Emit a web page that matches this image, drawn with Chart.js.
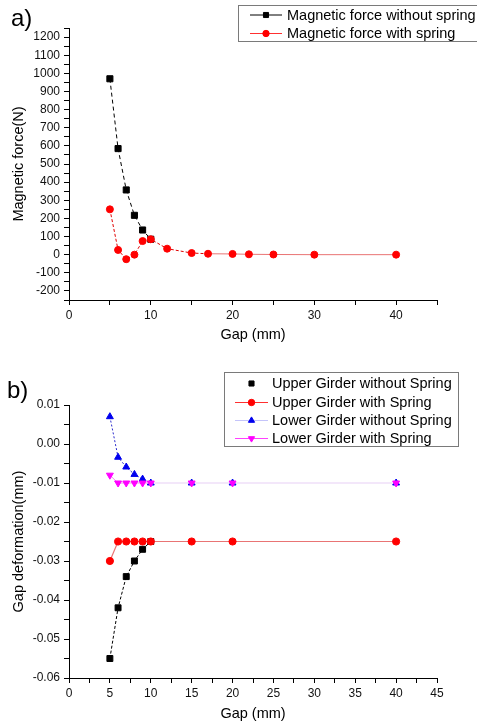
<!DOCTYPE html>
<html><head><meta charset="utf-8">
<script src="https://cdn.jsdelivr.net/npm/chart.js@4/dist/chart.umd.min.js"></script>
<style>
html,body{margin:0;padding:0;background:#fff;width:477px;height:723px;overflow:hidden;}
.wrap{position:absolute;left:0;width:477px;}
</style></head><body>
<div class="wrap" style="top:0;height:345px"><canvas id="c1"></canvas></div>
<div class="wrap" style="top:350px;height:373px"><canvas id="c2"></canvas></div>
<script>
// ---------- Panel a) ----------
const gapNoSpringA = [5, 6, 7, 8, 9, 10];
const forceNoSpring = [970, 585, 357, 217, 136, 85];
const gapSpringA = [5, 6, 7, 8, 9, 10, 12, 15, 17, 20, 22, 25, 30, 40];
const forceSpring = [250, 26, -25, 0, 75, 85, 33, 9, 5, 4, 2, 1, 0, 0];
const labelsA = ['Magnetic force without spring', 'Magnetic force with spring'];

// ---------- Panel b) ----------
const gapUpperNoSpring = [5, 6, 7, 8, 9, 10];
const upperNoSpring = [-0.055, -0.042, -0.034, -0.030, -0.027, -0.025];
const gapB = [5, 6, 7, 8, 9, 10, 15, 20, 40];
const upperSpring = [-0.030, -0.025, -0.025, -0.025, -0.025, -0.025, -0.025, -0.025, -0.025];
const lowerNoSpring = [0.007, -0.0034, -0.0059, -0.0078, -0.0090, -0.010, -0.010, -0.010, -0.010];
const lowerSpring = [-0.008, -0.010, -0.010, -0.010, -0.010, -0.010, -0.010, -0.010, -0.010];
const labelsB = ['Upper Girder without Spring', 'Upper Girder with Spring', 'Lower Girder without Spring', 'Lower Girder with Spring'];

const FONT = '"Liberation Sans", Arial, sans-serif';
const pts = (xs, ys) => xs.map((x, i) => ({x: x, y: ys[i]}));

function drawMarker(ctx, style, r, rot, x, y, color) {
  ctx.save();
  ctx.fillStyle = color; ctx.strokeStyle = color; ctx.lineWidth = 1;
  if (Chart.helpers && Chart.helpers.drawPoint) {
    Chart.helpers.drawPoint(ctx, {pointStyle: style, radius: r, borderWidth: 1, rotation: rot || 0}, x, y);
  }
  ctx.restore();
}

function makeLegend(id, cfg) {
  return {
    id: id,
    afterDraw(chart) {
      const ctx = chart.ctx;
      ctx.save();
      ctx.strokeStyle = '#7a7a7a'; ctx.lineWidth = 1;
      ctx.strokeRect(cfg.box[0], cfg.box[1], cfg.box[2] - cfg.box[0], cfg.box[3] - cfg.box[1]);
      ctx.font = '14.5px ' + FONT;
      ctx.textBaseline = 'middle'; ctx.textAlign = 'left';
      cfg.items.forEach((it, i) => {
        const ds = chart.data.datasets[it.ds];
        const y = cfg.rows[i];
        if (it.line) {
          ctx.strokeStyle = it.line; ctx.lineWidth = 1;
          ctx.beginPath(); ctx.moveTo(cfg.x1, y); ctx.lineTo(cfg.x2, y); ctx.stroke();
        }
        drawMarker(ctx, ds.pointStyle, it.r, ds.pointRotation, (cfg.x1 + cfg.x2) / 2, y, ds.pointBackgroundColor);
        ctx.fillStyle = '#000';
        ctx.fillText(ds.label, cfg.tx, y + 0.5);
      });
      if (cfg.tag) {
        ctx.font = '24px ' + FONT;
        ctx.fillStyle = '#000';
        ctx.fillText(cfg.tag[0], cfg.tag[1], cfg.tag[2]);
      }
      ctx.restore();
    }
  };
}

function axis(opts) {
  return Object.assign({
    type: 'linear',
    border: {display: true, color: '#000', width: 1},
    grid: {drawOnChartArea: false, drawTicks: true, tickLength: 5, color: '#000', lineWidth: 1},
  }, opts);
}

// ---------------- Chart a ----------------
new Chart(document.getElementById('c1'), {
  type: 'line',
  data: {
    datasets: [
      {
        label: labelsA[0], data: pts(gapNoSpringA, forceNoSpring), order: 1,
        borderColor: '#000', borderWidth: 1, borderDash: [4, 3],
        pointStyle: 'rect', pointRadius: 4.3, pointBackgroundColor: '#000', pointBorderColor: '#000', pointBorderWidth: 1
      },
      {
        label: labelsA[1], data: pts(gapSpringA, forceSpring), order: 0,
        borderColor: '#e00000', borderWidth: 1,
        segment: {
          borderColor: c => c.p0.parsed.x >= 17 ? 'rgba(225,70,70,0.75)' : '#e00000',
          borderDash: c => c.p0.parsed.x >= 17 ? [] : [3, 2]
        },
        pointStyle: 'circle', pointRadius: 3.5, pointBackgroundColor: '#ff0000', pointBorderColor: '#ff0000', pointBorderWidth: 1
      }
    ]
  },
  options: {
    animation: false, responsive: true, maintainAspectRatio: false,
    layout: {padding: {top: 28, right: 40, left: 0, bottom: 0}},
    plugins: {legend: {display: false}, tooltip: {enabled: false}},
    scales: {
      x: axis({
        min: 0, max: 45,
        afterFit: s => { s.height = 45; },
        ticks: {stepSize: 5, autoSkip: false, maxRotation: 0, padding: 3, color: '#111', font: {family: FONT, size: 12},
          callback: v => (Math.round(v) % 10 === 0 ? String(v) : '')},
        title: {display: true, text: 'Gap (mm)', color: '#000', font: {family: FONT, size: 14.5}, padding: {top: 0, bottom: 1}}
      }),
      y: axis({
        min: -250, max: 1250,
        afterFit: s => { s.width = 69; },
        ticks: {stepSize: 50, autoSkip: false, padding: 4, color: '#111', font: {family: FONT, size: 12},
          callback: v => (Math.round(v) % 100 === 0 ? String(v) : '')},
        title: {display: true, text: 'Magnetic force(N)', color: '#000', font: {family: FONT, size: 14.5}, padding: {top: 10, bottom: 0}}
      })
    }
  },
  plugins: [makeLegend('legA', {
    box: [238.5, 5.5, 490, 41.5], x1: 250, x2: 282, tx: 287, rows: [15, 33.5],
    items: [{ds: 0, line: '#000', r: 3.6}, {ds: 1, line: '#ff3030', r: 3.2}],
    tag: ['a)', 11, 19]
  })]
});

// ---------------- Chart b ----------------
new Chart(document.getElementById('c2'), {
  type: 'line',
  data: {
    datasets: [
      {
        label: labelsB[0], data: pts(gapUpperNoSpring, upperNoSpring), order: 3,
        borderColor: '#000', borderWidth: 1, borderDash: [3, 2],
        pointStyle: 'rect', pointRadius: 4.2, pointBackgroundColor: '#000', pointBorderColor: '#000', pointBorderWidth: 1
      },
      {
        label: labelsB[1], data: pts(gapB, upperSpring), order: 2,
        borderColor: 'rgba(225,70,70,0.75)', borderWidth: 1.2,
        pointStyle: 'circle', pointRadius: 3.6, pointBackgroundColor: '#ff0000', pointBorderColor: '#ff0000', pointBorderWidth: 1
      },
      {
        label: labelsB[2], data: pts(gapB, lowerNoSpring), order: 1,
        borderColor: '#2020c0', borderWidth: 1,
        segment: {
          borderColor: c => c.p0.parsed.x >= 10 ? 'rgba(200,200,250,0.5)' : '#2a2acc',
          borderDash: c => c.p0.parsed.x >= 10 ? [] : [2, 2]
        },
        pointStyle: 'triangle', pointRadius: 4, pointBackgroundColor: '#0000ee', pointBorderColor: '#0000ee', pointBorderWidth: 1
      },
      {
        label: labelsB[3], data: pts(gapB, lowerSpring), order: 0,
        borderColor: 'rgba(240,140,240,0.8)', borderWidth: 1,
        segment: {
          borderColor: c => c.p0.parsed.x >= 10 ? 'rgba(245,215,245,0.8)' : 'rgba(240,130,240,0.9)'
        },
        pointStyle: 'triangle', pointRotation: 180, pointRadius: 4, pointBackgroundColor: '#ff00ff', pointBorderColor: '#ff00ff', pointBorderWidth: 1
      }
    ]
  },
  options: {
    animation: false, responsive: true, maintainAspectRatio: false,
    layout: {padding: {top: 55, right: 40, left: 0, bottom: 0}},
    plugins: {legend: {display: false}, tooltip: {enabled: false}},
    scales: {
      x: axis({
        min: 0, max: 45,
        afterFit: s => { s.height = 45; },
        ticks: {stepSize: 2.5, autoSkip: false, maxRotation: 0, padding: 3, color: '#111', font: {family: FONT, size: 12},
          callback: v => (Math.abs(v * 2 % 10) < 1e-6 ? String(v) : '')},
        title: {display: true, text: 'Gap (mm)', color: '#000', font: {family: FONT, size: 14.5}, padding: {top: 0, bottom: 0}}
      }),
      y: axis({
        min: -0.06, max: 0.01,
        afterFit: s => { s.width = 69; },
        ticks: {stepSize: 0.005, autoSkip: false, padding: 4, color: '#111', font: {family: FONT, size: 12},
          callback: v => {
            const k = Math.round(v * 1000);
            if (k % 10 !== 0) return '';
            return (k < 0 ? '-' : '') + (Math.abs(k) / 1000).toFixed(2);
          }},
        title: {display: true, text: 'Gap deformation(mm)', color: '#000', font: {family: FONT, size: 14.5}, padding: {top: 10, bottom: 0}}
      })
    }
  },
  plugins: [makeLegend('legB', {
    box: [224.5, 22.5, 458.5, 96.5], x1: 235, x2: 268, tx: 272, rows: [33.5, 52.5, 70.5, 88.5],
    items: [{ds: 0, line: null, r: 3.6}, {ds: 1, line: '#ff3030', r: 3.2}, {ds: 2, line: 'rgba(190,190,250,0.9)', r: 3.6}, {ds: 3, line: '#ff40ff', r: 3.6}],
    tag: ['b)', 7, 41]
  })]
});
</script>
</body></html>
